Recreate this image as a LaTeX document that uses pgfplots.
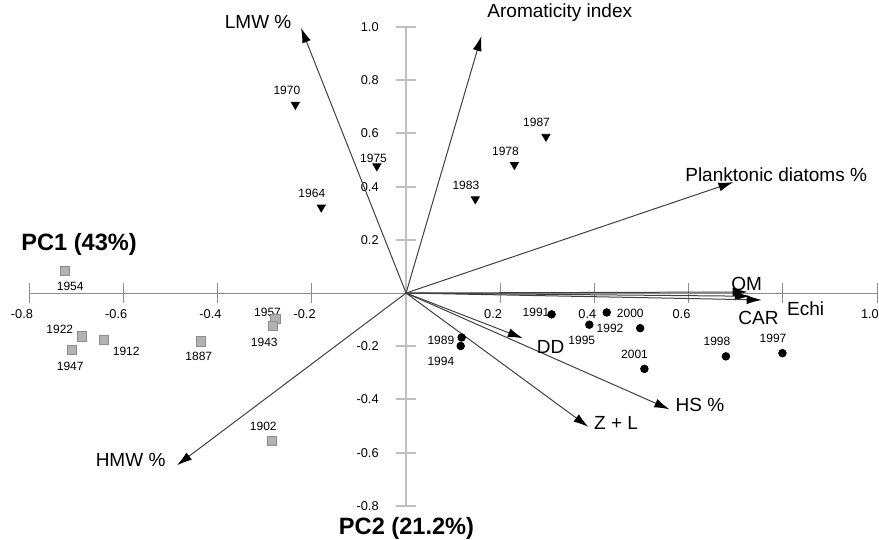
\documentclass[border=0pt]{standalone}
\usepackage{fontspec}
\setmainfont{Liberation Sans}
\usepackage{pgfplots}
\pgfplotsset{compat=1.18}
\usetikzlibrary{arrows.meta}

\tikzset{
  yr/.style={font=\fontsize{6}{6}\selectfont, inner sep=0pt},
  big/.style={font=\fontsize{9.5}{10}\selectfont, inner sep=0pt},
  vec/.style={black!75, line width=0.5pt, -{Latex[length=7.5pt,width=4.5pt,color=black]}},
}

\begin{document}
\begin{tikzpicture}
\begin{axis}[
  x=235.5pt, y=133pt,
  axis lines=middle,
  xmin=-0.8, xmax=1.0, ymin=-0.8, ymax=1.0,
  clip=false,
  x axis line style={-, draw=black!45, line width=0.5pt},
  y axis line style={-, draw=black!25, line width=1pt},
  xtick={-0.8,-0.6,-0.4,-0.2,0.2,0.4,0.6,0.8,1.0},
  xticklabels={-0.8,-0.6,-0.4,-0.2,0.2,0.4,0.6,,1.0},
  ytick={-0.8,-0.6,-0.4,-0.2,0.2,0.4,0.6,0.8,1.0},
  yticklabels={-0.8,-0.6,-0.4,-0.2,0.2,0.4,0.6,0.8,1.0},
  tick align=center, major tick length=10pt,
  every x tick/.style={black!45, line width=0.5pt},
  every y tick/.style={black!25, line width=1pt},
  ticklabel style={font=\fontsize{6.4}{7}\selectfont, inner sep=0pt},
  xticklabel style={anchor=north, xshift=-3.6pt, yshift=-2.9pt},
  yticklabel style={anchor=east, xshift=-8.5pt},
]
% invisible frame to keep page size
\path (axis cs:-0.862,-0.925) rectangle (axis cs:1.004,1.1015);

% loading vectors
\addplot[vec] coordinates {(0,0) (-0.223,0.997)};   % LMW
\addplot[vec] coordinates {(0,0) (0.160,0.966)};    % Aromaticity
\addplot[vec] coordinates {(0,0) (0.695,0.417)};    % Planktonic
\addplot[vec] coordinates {(0,0) (0.725,0.004)};    % OM
\addplot[vec] coordinates {(0,0) (0.730,-0.012)};   % CAR
\addplot[vec] coordinates {(0,0) (0.755,-0.026)};   % Echi
\addplot[vec] coordinates {(0,0) (0.248,-0.170)};   % DD
\addplot[vec] coordinates {(0,0) (0.559,-0.437)};   % HS
\addplot[vec] coordinates {(0,0) (0.387,-0.503)};   % Z+L
\addplot[vec] coordinates {(0,0) (-0.486,-0.647)};  % HMW

% samples, older (squares)
\addplot[only marks, mark=square*, mark size=2.3pt,
  mark options={fill=black!30, draw=black!45, line width=0.5pt}] coordinates {
  (-0.724,0.084) (-0.688,-0.163) (-0.642,-0.178) (-0.710,-0.213)
  (-0.435,-0.182) (-0.277,-0.099) (-0.282,-0.124) (-0.284,-0.556)
};
% triangles
\addplot[only marks, mark=triangle*, mark size=2.3pt,
  mark options={rotate=180, fill=black, draw=black}] coordinates {
  (-0.235,0.708) (-0.180,0.322) (-0.062,0.477)
  (0.147,0.353) (0.230,0.482) (0.297,0.588)
};
% circles
\addplot[only marks, mark=*, mark size=1.9pt,
  mark options={fill=black, draw=black}] coordinates {
  (0.309,-0.080) (0.426,-0.073) (0.389,-0.119) (0.497,-0.132)
  (0.506,-0.285) (0.679,-0.238) (0.799,-0.226) (0.118,-0.167) (0.116,-0.199)
};

% year labels
\node[yr] at (axis cs:-0.713,0.026) {1954};
\node[yr] at (axis cs:-0.735,-0.135) {1922};
\node[yr] at (axis cs:-0.594,-0.221) {1912};
\node[yr] at (axis cs:-0.713,-0.274) {1947};
\node[yr] at (axis cs:-0.440,-0.239) {1887};
\node[yr] at (axis cs:-0.294,-0.071) {1957};
\node[yr] at (axis cs:-0.301,-0.187) {1943};
\node[yr] at (axis cs:-0.303,-0.500) {1902};
\node[yr] at (axis cs:-0.253,0.763) {1970};
\node[yr] at (axis cs:-0.200,0.375) {1964};
\node[yr] at (axis cs:-0.069,0.506) {1975};
\node[yr] at (axis cs:0.127,0.406) {1983};
\node[yr] at (axis cs:0.211,0.534) {1978};
\node[yr] at (axis cs:0.277,0.640) {1987};
\node[yr] at (axis cs:0.276,-0.074) {1991};
\node[yr] at (axis cs:0.476,-0.076) {2000};
\node[yr] at (axis cs:0.373,-0.177) {1995};
\node[yr] at (axis cs:0.433,-0.133) {1992};
\node[yr] at (axis cs:0.485,-0.229) {2001};
\node[yr] at (axis cs:0.660,-0.183) {1998};
\node[yr] at (axis cs:0.779,-0.172) {1997};
\node[yr] at (axis cs:0.074,-0.179) {1989};
\node[yr] at (axis cs:0.074,-0.258) {1994};

% variable labels
\node[big] at (axis cs:-0.314,1.019) {LMW \%};
\node[big, anchor=west] at (axis cs:0.172,1.056) {Aromaticity index};
\node[big, anchor=west] at (axis cs:0.592,0.444) {Planktonic diatoms \%};
\node[big] at (axis cs:0.723,0.036) {OM};
\node[big, anchor=west] at (axis cs:0.808,-0.058) {Echi};
\node[big] at (axis cs:0.748,-0.095) {CAR};
\node[big] at (axis cs:0.307,-0.202) {DD};
\node[big] at (axis cs:0.624,-0.421) {HS \%};
\node[big] at (axis cs:0.446,-0.488) {Z + L};
\node[big, anchor=east] at (axis cs:-0.510,-0.628) {HMW \%};

% component titles
\node[font=\bfseries\fontsize{11.8}{12}\selectfont, inner sep=0pt] at (axis cs:-0.694,0.184) {PC1 (43\%)};
\node[font=\bfseries\fontsize{11.8}{12}\selectfont, inner sep=0pt] at (axis cs:0.001,-0.883) {PC2 (21.2\%)};
\end{axis}
\end{tikzpicture}
\end{document}
